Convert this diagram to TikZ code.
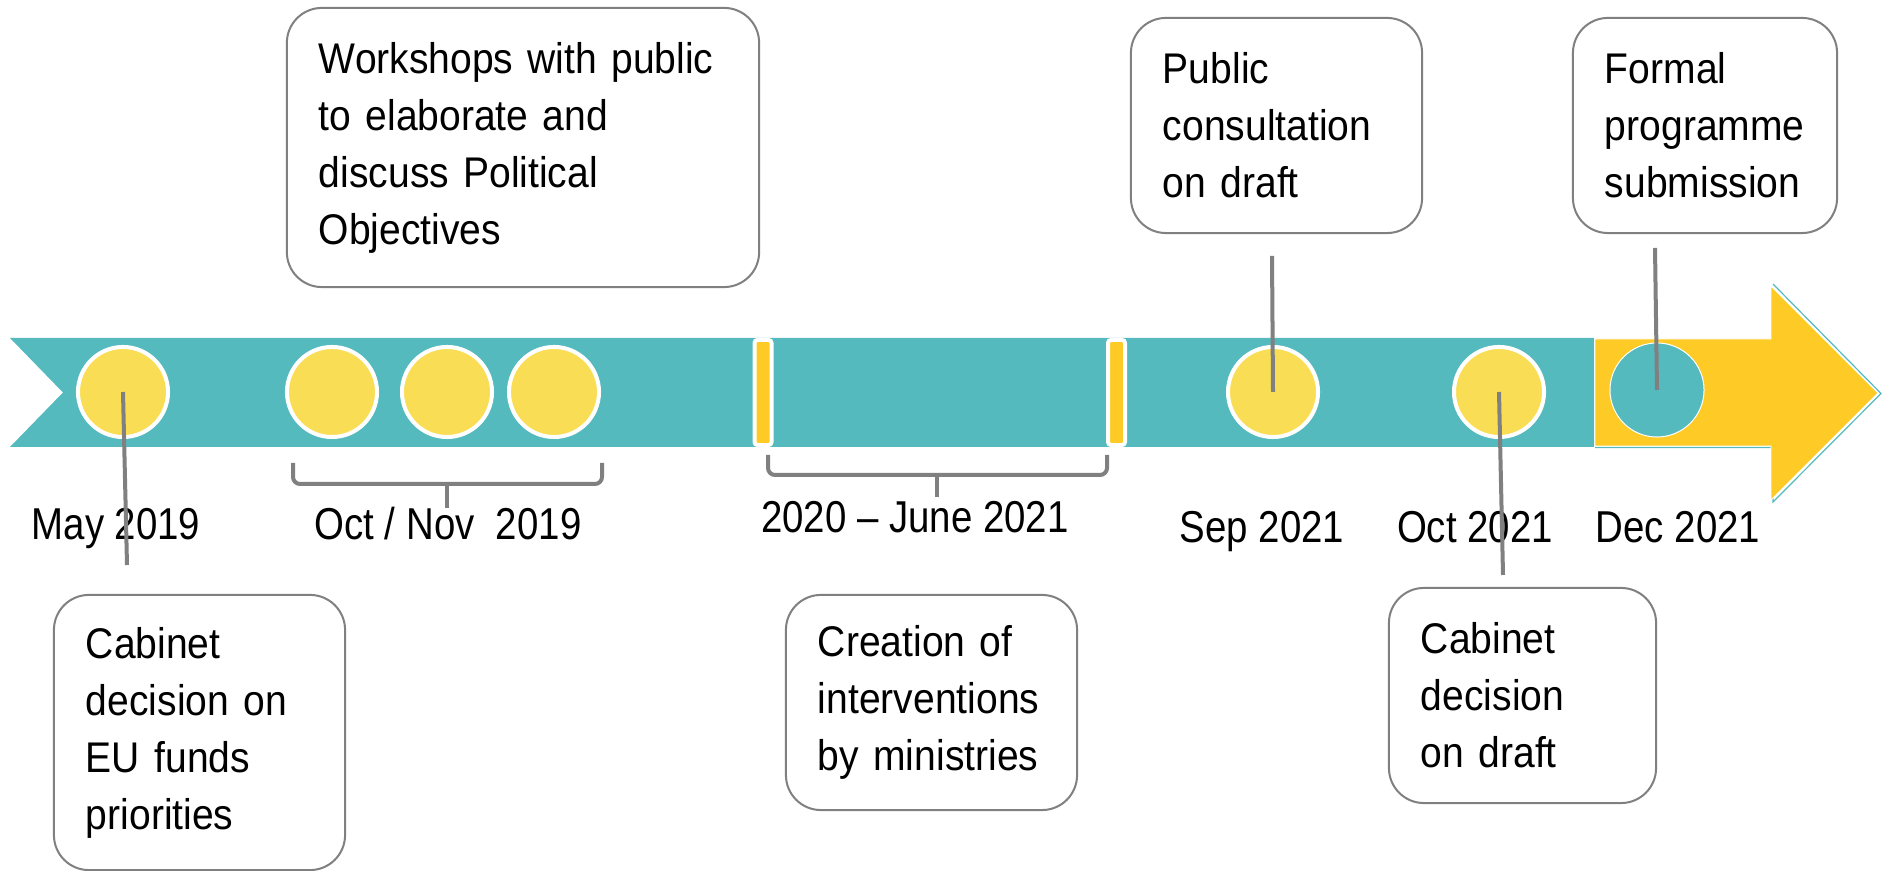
\documentclass[tikz,border=0pt]{standalone}
\usepackage{fontspec}
\setmainfont{Liberation Sans}
\newfontfamily\boxfont[FakeStretch=0.91]{Liberation Sans}
\newfontfamily\datefont[FakeStretch=0.86]{Liberation Sans}
\usetikzlibrary{positioning,calc}
\definecolor{myteal}{RGB}{84,186,190}
\definecolor{mydot}{RGB}{249,222,85}
\definecolor{myyellow}{RGB}{253,202,38}
\definecolor{mygray}{RGB}{128,128,128}
\hyphenpenalty=10000

\begin{document}
\begin{tikzpicture}[x=0.01cm,y=-0.01cm,
        dot/.style={circle,fill=mydot,draw=white,line width=0.04cm,minimum size=0.9cm,inner sep=0pt},
        enddot/.style={circle,fill=myteal,draw=white,line width=0.01cm,minimum size=0.94cm,inner sep=0pt},
        bar/.style={rectangle,fill=myyellow,draw=white,line width=0.04cm,rounded corners=0.03cm,
                    minimum width=0.17cm,minimum height=1.05cm,inner sep=0pt},
        event/.style={draw=mygray,line width=0.02cm,fill=white,rounded corners=0.35cm,align=left,
                      inner xsep=0.32cm,inner ysep=0pt,font=\boxfont\fontsize{12.2}{16.2}\selectfont},
        date/.style={anchor=base,inner sep=0pt,font=\datefont\fontsize{12.7}{15}\selectfont},
        link/.style={draw=mygray,line width=0.04cm},
        brace/.style={draw=mygray,line width=0.04cm,rounded corners=0.07cm}
      ]
      \useasboundingbox (0,0) rectangle (1885,871);

      % the band and the arrow
      \fill[myteal] (10,338) -- (1594,338) -- (1594,447) -- (10,447) -- (63,392.5) -- cycle;
      \draw[myteal,line width=0.012cm] (1595,447.5) -- (1773,447.5) -- (1773,502) -- (1881,393.5) -- (1773,284);
      \filldraw[fill=myyellow,draw=white,line width=0.008cm] (1595,339) -- (1771,339) -- (1771,286)
        -- (1878,393) -- (1771,500) -- (1771,446) -- (1595,446) -- cycle;

      % the dates on the band
      \foreach \n/\x in {may/123,wa/332,wb/447,wc/554,sep/1273,oct/1499}
        \node[dot] (\n) at (\x,392) {};
      \node[enddot] (dec) at (1657,390) {};
      \node[bar] (start) at (763,392.5) {};
      \node[bar] (stop) at (1116.5,392.5) {};

      % the events
      \node[event,text width=4.08cm,minimum height=2.79cm] (work) at (523,147.5)
        {Workshops with public\\to elaborate and\\discuss Political\\Objectives};
      \node[event,text width=2.27cm,minimum height=2.75cm] (cabA) at (199.5,732.5)
        {Cabinet\\decision on\\EU funds\\priorities};
      \node[event,text width=2.27cm,minimum height=2.15cm] (pub) at (1276.5,125.5)
        {Public\\consultation\\on draft};
      \node[event,text width=2.00cm,minimum height=2.15cm] (formal) at (1705,125.5)
        {Formal\\programme\\submission};
      \node[event,text width=2.27cm,minimum height=2.15cm] (create) at (931.5,702.5)
        {Creation of\\interventions\\by ministries};
      \node[event,text width=2.03cm,minimum height=2.15cm] (cabB) at (1522.5,695.5)
        {Cabinet\\decision\\on draft};

      % the date labels
      \node[date] (dmay) at (116,540) {May 2019};
      \node[date] (dws) at (448,540) {Oct / Nov\ \ 2019};
      \node[date] (dint) at (915,533) {2020 – June 2021};
      \node[date] (dsep) at (1262,543) {Sep 2021};
      \node[date] (doct) at (1475,543) {Oct 2021};
      \node[date] (ddec) at (1678,543) {Dec 2021};

      % the braces
      \draw[brace] (293,463) -- (293,484) -- (602,484) -- (602,463);
      \draw[brace] (447,484) -- (447,508);
      \draw[brace] (768,455) -- (768,475) -- (1107,475) -- (1107,455);
      \draw[brace] (937,475) -- (937,497);

      % the leader lines
      \coordinate (mayend) at (127,565);
      \coordinate (septop) at (1272,256);
      \coordinate (dectop) at (1655,248);
      \coordinate (octend) at (1503,575);
      \draw[link] (may.center) -- (mayend);
      \draw[link] (septop) -- (sep.center);
      \draw[link] (dectop) -- (dec.center);
      \draw[link] (oct.center) -- (octend);
\end{tikzpicture}
\end{document}
